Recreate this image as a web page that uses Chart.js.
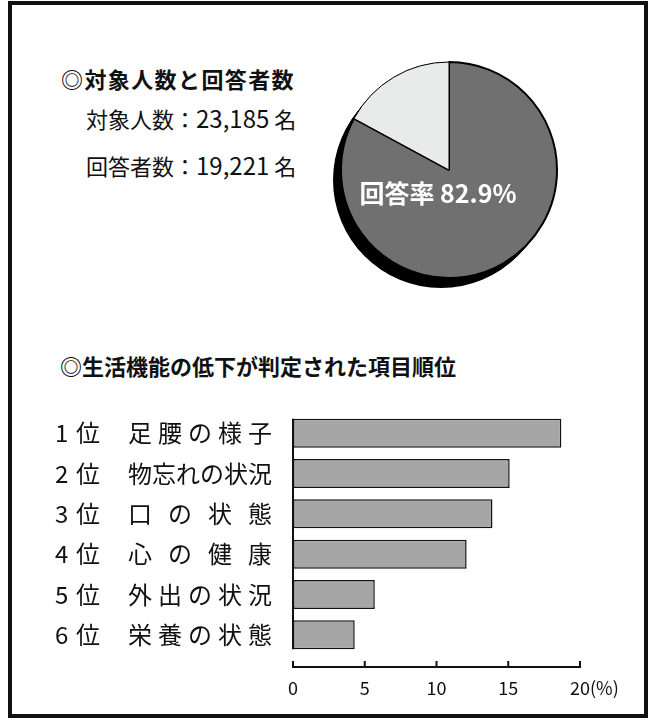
<!DOCTYPE html>
<html>
<head>
<meta charset="utf-8">
<script src="https://cdn.jsdelivr.net/npm/chart.js@4/dist/chart.umd.min.js"></script>
<style>
  body { margin: 0; background: #fff; font-family: "Noto Sans CJK JP", sans-serif; color: #111; }
  #frame { position: absolute; left: 8px; top: 1px; width: 640px; height: 717px; box-sizing: border-box; border: 4px solid #111; }
  .t { position: absolute; white-space: nowrap; line-height: 1; }
  .h { font-weight: bold; font-size: 22px; }
  .n { font-size: 22px; }
  .n b { font-weight: normal; font-size: 24px; }
  #pie { position: absolute; left: 329px; top: 50px; }
  #bars { position: absolute; left: 40px; top: 405px; }
</style>
</head>
<body>
<div id="frame"></div>
<div class="t h" style="left:61px;top:67px;letter-spacing:1.4px">◎対象人数と回答者数</div>
<div class="t n" style="left:86px;top:106px">対象人数：<b>23,185</b> 名</div>
<div class="t n" style="left:86px;top:153px">回答者数：<b>19,221</b> 名</div>
<div class="t h" style="left:60px;top:354px">◎生活機能の低下が判定された項目順位</div>
<canvas id="pie" width="240" height="240"></canvas>
<canvas id="bars" width="600" height="300"></canvas>
<script>
// pie: response rate
const pieLabels = ['回答', '未回答'];
const pieValues = [82.9, 17.1];
const pieColors = ['#707070', '#e9eaea'];
const pieText = '回答率 82.9%';

// bars: ranking of items
const ranks = ['1', '2', '3', '4', '5', '6'];
const items = ['足腰の様子', '物忘れの状況', '口の状態', '心の健康', '外出の状況', '栄養の状態'];
const rates = [18.7, 15.1, 13.9, 12.1, 5.7, 4.3];
const xTicks = [0, 5, 10, 15, 20];

const FONT = '"Noto Sans CJK JP", sans-serif';

const pieDecor = {
    id: 'pieDecor',
    beforeDatasetsDraw(chart) {
        const a = chart.getDatasetMeta(0).data[0];
        const ctx = chart.ctx;
        ctx.save();
        ctx.fillStyle = '#000';
        // extruded shadow down-left
        for (let t = 0; t <= 1.001; t += 0.1) {
            ctx.beginPath();
            ctx.arc(a.x - 8 * t, a.y + 10 * t, a.outerRadius, 0, Math.PI * 2);
            ctx.fill();
        }
        ctx.restore();
    },
    afterDatasetsDraw(chart) {
        const a = chart.getDatasetMeta(0).data[0];
        const ctx = chart.ctx;
        ctx.save();
        ctx.font = 'bold 25px ' + FONT;
        ctx.fillStyle = '#fff';
        ctx.textAlign = 'center';
        ctx.textBaseline = 'middle';
        ctx.fillText(pieText, a.x - 11, a.y + 23);
        ctx.restore();
    }
};

new Chart(document.getElementById('pie'), {
    type: 'pie',
    data: {
        labels: pieLabels,
        datasets: [{
            data: pieValues,
            backgroundColor: pieColors,
            borderColor: '#000',
            borderWidth: [2, 1]
        }]
    },
    options: {
        responsive: false,
        animation: false,
        layout: { padding: 11 },
        plugins: { legend: { display: false }, tooltip: { enabled: false } }
    },
    plugins: [pieDecor]
});

const barDecor = {
    id: 'barDecor',
    afterDraw(chart) {
        const { ctx, chartArea } = chart;
        const x = chart.scales.x, y = chart.scales.y;
        const bars = chart.getDatasetMeta(0).data;
        const x0 = x.getPixelForValue(0);
        ctx.save();
        ctx.strokeStyle = '#111';
        ctx.lineWidth = 2;

        // y axis line only along the bars
        const first = bars[0], last = bars[bars.length - 1];
        ctx.beginPath();
        ctx.moveTo(x0, first.y - first.height / 2);
        ctx.lineTo(x0, last.y + last.height / 2);
        ctx.stroke();

        // x axis line a little below, ticks pointing up
        const ay = chartArea.bottom + 12;
        ctx.beginPath();
        ctx.moveTo(x0, ay);
        ctx.lineTo(x.getPixelForValue(xTicks[xTicks.length - 1]), ay);
        xTicks.forEach(v => {
            const px = x.getPixelForValue(v);
            ctx.moveTo(px, ay + 1);
            ctx.lineTo(px, ay - 6);
        });
        ctx.stroke();

        // "(%)" right after the last tick label, same line
        const items_ = x.getLabelItems();
        const li = items_[items_.length - 1];
        ctx.font = li.font.string;
        ctx.fillStyle = '#111';
        ctx.textAlign = 'left';
        ctx.textBaseline = li.options.textBaseline;
        const [tx, ty] = li.options.translation;
        ctx.fillText('(%)', tx + ctx.measureText(String(li.label)).width / 2, ty + (li.textOffset || 0));

        // category labels: rank + justified item name
        ctx.font = '24px ' + FONT;
        ctx.textBaseline = 'middle';
        const L = chartArea.left - 165, R = chartArea.left - 21;
        items.forEach((name, i) => {
            const cy = y.getPixelForValue(i);
            ctx.fillText(ranks[i], chartArea.left - 238, cy);
            ctx.fillText('位', chartArea.left - 217, cy);
            const chars = Array.from(name);
            const widths = chars.map(c => ctx.measureText(c).width);
            const total = widths.reduce((s, w) => s + w, 0);
            const gap = chars.length > 1 ? (R - L - total) / (chars.length - 1) : 0;
            let cx = L;
            chars.forEach((c, k) => {
                ctx.fillText(c, cx, cy);
                cx += widths[k] + gap;
            });
        });
        ctx.restore();
    }
};

new Chart(document.getElementById('bars'), {
    type: 'bar',
    data: {
        labels: items,
        datasets: [{
            data: rates,
            backgroundColor: '#a6a6a6',
            borderColor: '#111',
            borderWidth: 1.5,
            borderSkipped: false,
            barPercentage: 0.72,
            categoryPercentage: 1
        }]
    },
    options: {
        indexAxis: 'y',
        responsive: false,
        animation: false,
        layout: { padding: { left: 245, right: 60, top: 8, bottom: 0 } },
        plugins: { legend: { display: false }, tooltip: { enabled: false } },
        scales: {
            x: {
                min: 0,
                max: 20,
                afterBuildTicks: s => { s.ticks = xTicks.map(v => ({ value: v })); },
                afterFit: s => { s.height = 50; },
                grid: { display: false, drawTicks: false },
                border: { display: false },
                ticks: { color: '#111', font: { size: 18, family: FONT }, padding: 22, maxRotation: 0 }
            },
            y: {
                ticks: { display: false },
                grid: { display: false },
                border: { display: false }
            }
        }
    },
    plugins: [barDecor]
});
</script>
</body>
</html>
